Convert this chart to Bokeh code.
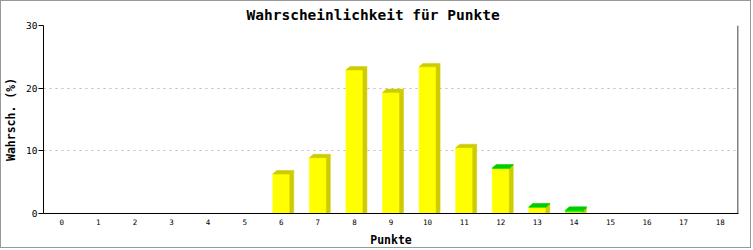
from bokeh.plotting import figure
from bokeh.models import Range1d, FixedTicker, Span
from bokeh.embed import file_html
from bokeh.resources import INLINE

# ---- data -------------------------------------------------------------
points = list(range(19))
tick_labels = [str(v) for v in points]
yellow = [0, 0, 0, 0, 0, 0, 6.3, 8.9, 22.9, 19.3, 23.4, 10.5, 7.2, 1.0, 0.27, 0, 0, 0, 0]
green = [0, 0, 0, 0, 0, 0, 0, 0, 0, 0, 0, 0, 0.05, 0.05, 0.25, 0, 0, 0, 0]
y_ticks = [0, 10, 20, 30]

# ---- geometry (pixel sizes converted through the scales) ---------------
W_PX, H_PX = 751, 248
FRAME_L, FRAME_R, FRAME_T, FRAME_B = 42, 737, 24, 213
X0, X1 = -0.5, 18.5
Y0, Y1 = 0, 30
xs_per_px = (X1 - X0) / (FRAME_R - FRAME_L)
ys_per_px = (Y1 - Y0) / (FRAME_B - FRAME_T)
BW = 17 * xs_per_px      # front width
DX = 4 * xs_per_px       # 3D depth (x)
DY = 3.5 * ys_per_px     # 3D depth (y)

FONT = "DejaVu Sans Mono"

p = figure(width=W_PX, height=H_PX, output_backend="svg", toolbar_location=None,
           x_range=Range1d(X0, X1), y_range=Range1d(Y0, Y1),
           min_border_left=FRAME_L, min_border_right=W_PX - FRAME_R,
           min_border_top=FRAME_T, min_border_bottom=H_PX - FRAME_B,
           background_fill_color="white", border_fill_color="white")
p.styles = {"border": "1px solid #999999"}
p.outline_line_color = None

p.title.text = "Wahrscheinlichkeit für Punkte"
p.title.text_font = FONT
p.title.text_font_style = "bold"
p.title.text_font_size = "14.5px"
p.title.text_color = "black"
p.title.align = "left"
p.title.standoff = 5
p.title.offset = 203

# grid
p.xgrid.visible = False
p.ygrid.ticker = FixedTicker(ticks=y_ticks)
p.ygrid.grid_line_color = "#bbbbbb"
p.ygrid.grid_line_dash = "2 4"

# y axis
p.yaxis.ticker = FixedTicker(ticks=y_ticks)
p.yaxis.minor_tick_line_color = None
p.yaxis.major_tick_in = 0
p.yaxis.major_tick_out = 5
p.yaxis.major_tick_line_color = "black"
p.yaxis.major_label_standoff = 1
p.yaxis.major_label_text_font = FONT
p.yaxis.major_label_text_font_size = "9.5px"
p.yaxis.major_label_text_color = "black"
p.yaxis.axis_label = "Wahrsch. (%)"
p.yaxis.axis_label_text_font = FONT
p.yaxis.axis_label_text_font_style = "bold"
p.yaxis.axis_label_text_font_size = "11.5px"
p.yaxis.axis_label_text_color = "black"
p.yaxis.axis_label_standoff = 5
p.yaxis.axis_line_color = "black"

# x axis
p.xaxis.ticker = FixedTicker(ticks=points)
p.xaxis.major_label_overrides = {v: t for v, t in zip(points, tick_labels)}
p.xaxis.minor_tick_line_color = None
p.xaxis.major_tick_in = 0
p.xaxis.major_tick_out = 0
p.xaxis.major_label_standoff = 5
p.xaxis.major_label_text_font = FONT
p.xaxis.major_label_text_font_size = "7.5px"
p.xaxis.major_label_text_color = "black"
p.xaxis.axis_label = "Punkte"
p.xaxis.axis_label_text_font = FONT
p.xaxis.axis_label_text_font_style = "bold"
p.xaxis.axis_label_text_font_size = "11.5px"
p.xaxis.axis_label_text_color = "black"
p.xaxis.axis_label_standoff = 5
p.xaxis.axis_line_color = "black"

# right frame line
p.add_layout(Span(location=X1 - 0.5 * xs_per_px, dimension="height",
                  line_color="black", line_width=1))


def bar_faces(xc, b, t):
    x0 = xc - BW / 2
    x1 = xc + BW / 2
    front = ([x0, x1, x1, x0], [b, b, t, t])
    side = ([x1, x1 + DX, x1 + DX, x1], [b, b + (DY * 0.3 if b == 0 else DY), t + DY, t])
    top = ([x0, x1, x1 + DX, x0 + DX], [t, t, t + DY, t + DY])
    return front, side, top


def draw_series(bases, values, front_col, dark_col):
    fx, fy, sx, sy, tx, ty = [], [], [], [], [], []
    for xc, b, v in zip(points, bases, values):
        if v <= 0:
            continue
        front, side, top = bar_faces(xc, b, b + v)
        fx.append(front[0]); fy.append(front[1])
        sx.append(side[0]); sy.append(side[1])
        tx.append(top[0]); ty.append(top[1])
    p.patches(fx, fy, fill_color=front_col, line_color=front_col, line_width=0.5)
    p.patches(sx, sy, fill_color=dark_col, line_color=dark_col, line_width=0.5)
    p.patches(tx, ty, fill_color=dark_col, line_color=dark_col, line_width=0.5)


draw_series([0] * len(points), yellow, "#ffff00", "#cccc00")
draw_series(yellow, green, "#00ff00", "#00cc00")

open("out.html", "w").write(file_html(p, INLINE))
